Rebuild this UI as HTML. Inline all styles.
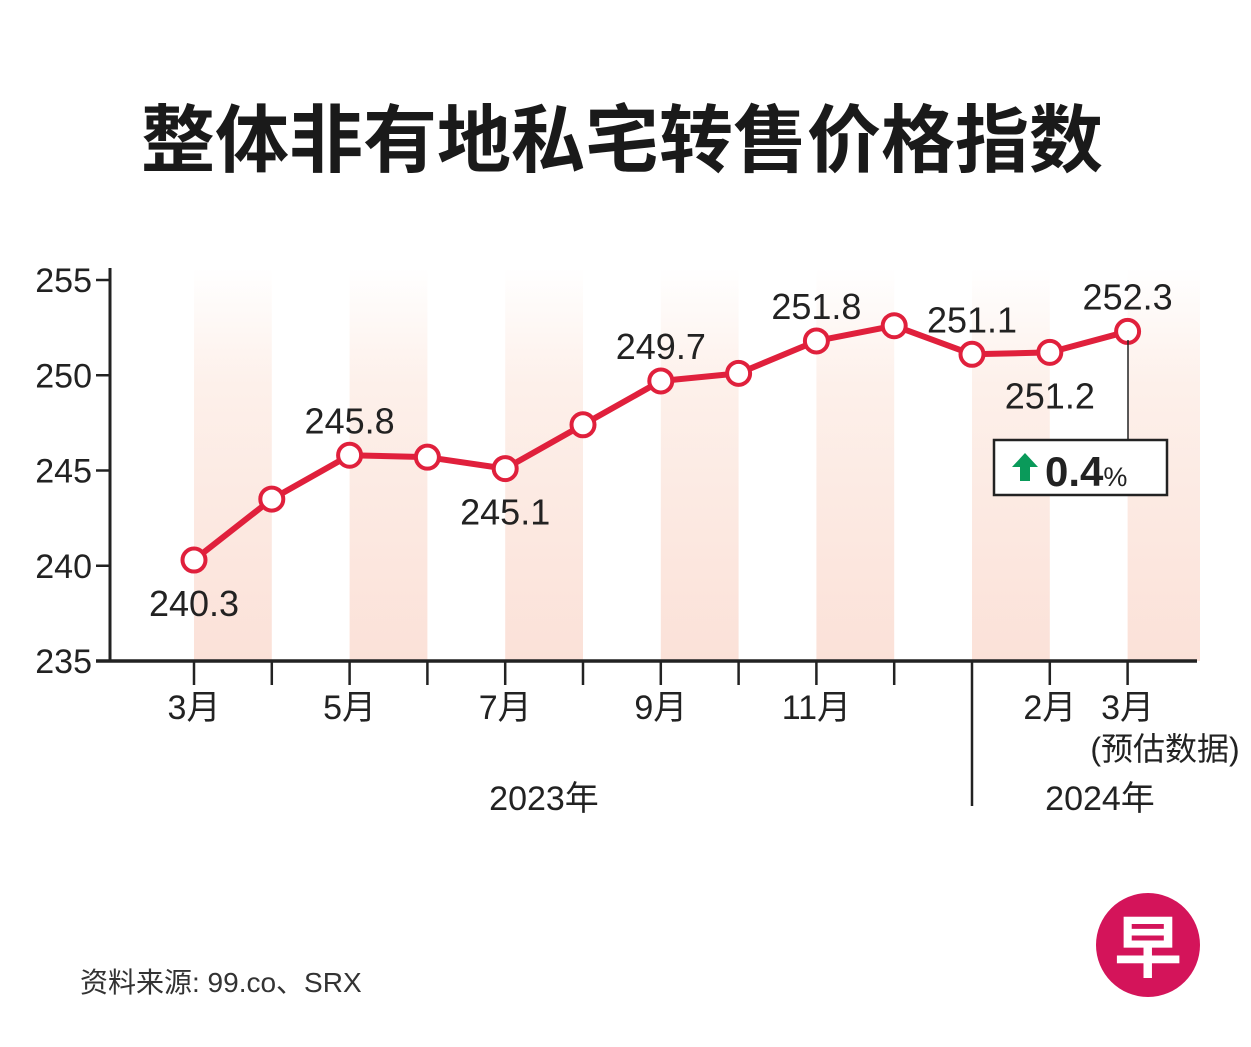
<!DOCTYPE html>
<html><head><meta charset="utf-8">
<style>
body{margin:0;background:#fff;}
svg{display:block;font-family:"Liberation Sans","Noto Sans CJK SC",sans-serif;}
</style></head>
<body>
<svg id="chart" width="1251" height="1047" viewBox="0 0 1251 1047">
<defs>
<linearGradient id="band" x1="0" y1="0" x2="0" y2="1">
<stop offset="0" stop-color="#fff" stop-opacity="1"/>
<stop offset="0.3" stop-color="#fdf0ea"/>
<stop offset="1" stop-color="#fbe1d8"/>
</linearGradient>
</defs>
<text x="622" y="166" text-anchor="middle" font-size="74" font-weight="bold" fill="#1a1a1a" font-family="'Noto Sans CJK SC',sans-serif">整体非有地私宅转售价格指数</text>
<g id="bands"></g>
<g id="axes"></g>
<g id="series"></g>
<g id="labels"></g>
<g>
<line x1="1128" y1="340" x2="1128" y2="440" stroke="#222" stroke-width="1.5"/>
<rect x="994" y="440" width="173" height="55" fill="#fff" stroke="#222" stroke-width="2.5"/>
<polygon points="1025,453 1038,467 1030,467 1030,481 1020,481 1020,467 1012,467" fill="#0a9a5a"/>
<text x="1045" y="486" font-size="42" font-weight="bold" fill="#222">0.4<tspan font-size="27" font-weight="normal">%</tspan></text>
</g>
<line x1="972" y1="661" x2="972" y2="806" stroke="#222" stroke-width="2.5"/>
<text x="544" y="810" text-anchor="middle" font-size="34" fill="#222">2023年</text>
<text x="1100" y="810" text-anchor="middle" font-size="34" fill="#222">2024年</text>
<text x="1165" y="760" text-anchor="middle" font-size="32" fill="#222">(预估数据)</text>
<text x="80" y="992" font-size="28" fill="#333">资料来源: 99.co、SRX</text>
<g>
<circle cx="1148" cy="945" r="52" fill="#d4145a"/>
<text x="1148" y="972" text-anchor="middle" font-size="68" font-weight="bold" fill="#fff" font-family="'Noto Sans CJK SC',sans-serif">早</text>
</g>
</svg>
<script>
const months = ["3月","4月","5月","6月","7月","8月","9月","10月","11月","12月","1月","2月","3月"];
const values = [240.3,243.5,245.8,245.7,245.1,247.4,249.7,250.1,251.8,252.6,251.1,251.2,252.3];
const yTicks = [235,240,245,250,255];
const tickLabels = ["3月","","5月","","7月","","9月","","11月","","","2月","3月"];
const valueLabels = ["240.3","","245.8","","245.1","","249.7","","251.8","","251.1","251.2","252.3"];
const labelAbove = [false,false,true,false,false,false,true,false,true,false,true,false,true];

const NS="http://www.w3.org/2000/svg";
const x0=194, dx=77.8;
function xs(i){return x0+i*dx;}
function ys(v){return 661-(v-235)*19.05;}
function mk(tag,attrs,parent){const e=document.createElementNS(NS,tag);for(const k in attrs)e.setAttribute(k,attrs[k]);parent.appendChild(e);return e;}
const bands=document.getElementById('bands'),axes=document.getElementById('axes'),series=document.getElementById('series'),labels=document.getElementById('labels');
for(let i=0;i<months.length;i+=2){
  const w=Math.min(dx,1200-xs(i));
  const r=mk('rect',{x:xs(i),y:268,width:w,height:393,fill:'url(#band)'},bands);
  
  
}
const ya=mk('line',{x1:110,y1:268,x2:110,y2:661,stroke:'#222','stroke-width':3},axes);


const xa=mk('line',{x1:96,y1:661,x2:1197,y2:661,stroke:'#222','stroke-width':3.5},axes);


yTicks.forEach(t=>{
  mk('line',{x1:96,y1:ys(t),x2:110,y2:ys(t),stroke:'#222','stroke-width':2.5},axes);
  const tx=mk('text',{x:92,y:ys(t)+12,'text-anchor':'end','font-size':34,fill:'#222'},axes);
  tx.textContent=t;
  
  
});
months.forEach((m,i)=>{
  if(i!==10) mk('line',{x1:xs(i),y1:661,x2:xs(i),y2:685,stroke:'#222','stroke-width':2.5},axes);
  if(tickLabels[i]){
    const tx=mk('text',{x:xs(i),y:719,'text-anchor':'middle','font-size':34,fill:'#222'},axes);
    tx.textContent=tickLabels[i];
    
    
  }
});
const pts=values.map((v,i)=>xs(i)+','+ys(v)).join(' ');
const pl=mk('polyline',{points:pts,fill:'none',stroke:'#e0203c','stroke-width':6,'stroke-linejoin':'round'},series);


values.forEach((v,i)=>{
  const c=mk('circle',{cx:xs(i),cy:ys(v),r:11.5,fill:'#fff',stroke:'#e0203c','stroke-width':4},series);
  
  
  if(valueLabels[i]){
    const y=labelAbove[i]?ys(v)-22:ys(v)+56;
    const tx=mk('text',{x:xs(i),y:y,'text-anchor':'middle','font-size':36,fill:'#222'},labels);
    tx.textContent=valueLabels[i];
    
    
  }
});
</script>
</body></html>
